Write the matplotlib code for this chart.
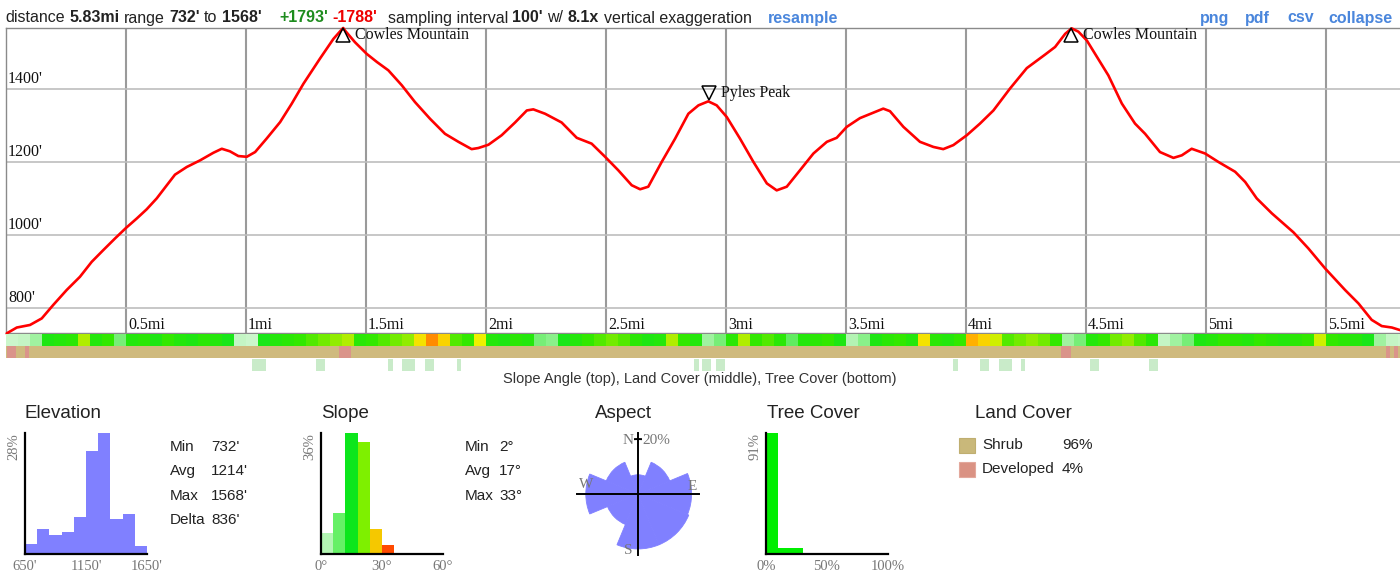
import matplotlib
matplotlib.use('Agg')
import matplotlib.pyplot as plt
import numpy as np
from matplotlib.colors import LinearSegmentedColormap
from matplotlib.patches import Rectangle
from matplotlib.text import Annotation
import matplotlib.transforms as mtrans

# ---------------- data ----------------
dist_mi = [0.003, 0.045, 0.1, 0.149, 0.197, 0.253, 0.308, 0.357, 0.405, 0.454,
           0.5, 0.545, 0.586, 0.628, 0.670, 0.704, 0.753, 0.808, 0.864, 0.899,
           0.933, 0.968, 1.003, 1.038, 1.086, 1.142, 1.190, 1.239, 1.308, 1.364,
           1.399, 1.405,
           1.4125, 1.454, 1.503, 1.545, 1.593, 1.649, 1.704, 1.767, 1.829, 1.885,
           1.940, 1.968, 2.010, 2.065, 2.121, 2.170, 2.197, 2.246, 2.315, 2.378,
           2.440, 2.496, 2.551, 2.607, 2.642, 2.676, 2.732, 2.788, 2.843,
           2.885, 2.926, 2.961, 3.003, 3.058, 3.114, 3.170, 3.211, 3.253, 3.308,
           3.364, 3.420, 3.461, 3.503, 3.558, 3.614, 3.655, 3.683, 3.739, 3.808,
           3.864, 3.905, 3.947, 4.003, 4.058, 4.114, 4.183, 4.253, 4.329,
           4.371, 4.413, 4.440, 4.468, 4.503, 4.593, 4.649, 4.704, 4.746, 4.808,
           4.864, 4.899, 4.940, 4.996, 5.051, 5.121, 5.163, 5.211, 5.274, 5.364,
           5.426, 5.496, 5.579, 5.635, 5.690, 5.732, 5.774, 5.808]
elev_ft = [731, 747, 754, 772, 809, 850, 886, 927, 959, 991,
           1020, 1046, 1071, 1101, 1137, 1166, 1187, 1205, 1226, 1237,
           1230, 1217, 1215, 1228, 1265, 1310, 1360, 1415, 1484, 1538,
           1564, 1568,
           1561, 1529, 1497, 1475, 1452, 1411, 1365, 1319, 1278, 1256,
           1236, 1239, 1248, 1274, 1309, 1342, 1345, 1333, 1309, 1267,
           1251, 1215, 1178, 1137, 1126, 1133, 1201, 1265, 1333,
           1356, 1367, 1356, 1324, 1265, 1201, 1142, 1123, 1133, 1178,
           1224, 1256, 1267, 1297, 1321, 1336, 1347, 1340, 1297, 1256,
           1242, 1236, 1247, 1274, 1306, 1342, 1402, 1458, 1495,
           1516, 1552, 1567, 1558, 1534, 1438, 1361, 1306, 1278, 1228,
           1212, 1219, 1237, 1224, 1201, 1174, 1146, 1101, 1060, 1008,
           964, 909, 850, 813, 768, 751, 747, 740]

grid_mi = [0.5, 1, 1.5, 2, 2.5, 3, 3.5, 4, 4.5, 5, 5.5]
grid_mi_labels = ['0.5mi', '1mi', '1.5mi', '2mi', '2.5mi', '3mi', '3.5mi', '4mi', '4.5mi', '5mi', '5.5mi']
grid_ft = [800, 1000, 1200, 1400]
grid_ft_labels = ["800'", "1000'", "1200'", "1400'"]

peak_names = ['Cowles Mountain', 'Pyles Peak', 'Cowles Mountain']
peak_mi = [1.405, 2.929, 4.4375]
peak_ft = [1568, 1370, 1567]
peak_up = [True, False, True]

# slope angle per 0.05 mi cell (degrees)
slope_cell_mi = 0.05
slope_deg = [5, 6, 8, 15, 16, 17, 22, 16, 18, 10,
             16, 17, 15, 18, 16, 15, 17, 16, 14, 6,
             5, 14, 16, 17, 18, 19, 20, 21, 22, 17,
             18, 19, 20, 21, 25, 30, 26, 19, 18, 24,
             16, 15, 17, 16, 10, 9, 14, 16, 18, 19,
             20, 19, 17, 15, 16, 22, 18, 16, 8, 10,
             17, 22, 18, 19, 17, 11, 16, 17, 18, 15,
             7, 9, 15, 17, 18, 16, 25, 17, 16, 18,
             28, 26, 23, 19, 20, 21, 20, 18, 8, 10,
             16, 18, 20, 21, 19, 17, 6, 8, 10, 15,
             16, 18, 17, 16, 18, 17, 16, 17, 18, 23,
             18, 17, 16, 14, 8, 6, 5]

# land cover segments (start_mi, end_mi) classed as developed; rest is shrub
developed_start = [0.004, 0.079, 1.388, 4.396, 5.750, 5.783]
developed_end = [0.042, 0.096, 1.438, 4.438, 5.767, 5.800]
# tree cover segments (low tree cover)
tree_start = [1.025, 1.292, 1.592, 1.650, 1.746, 1.879, 2.867, 2.900, 2.958,
              3.946, 4.058, 4.138, 4.229, 4.517, 4.763]
tree_end = [1.083, 1.329, 1.612, 1.704, 1.783, 1.896, 2.888, 2.938, 2.996,
            3.967, 4.096, 4.192, 4.246, 4.554, 4.800]

elev_bins = [650, 750, 850, 950, 1050, 1150, 1250, 1350, 1450, 1550, 1650]
elev_pct = [2.2, 5.9, 4.3, 5.0, 8.5, 23.8, 28.0, 8.2, 9.2, 1.9]
elev_stat_names = ['Min', 'Avg', 'Max', 'Delta']
elev_stat_vals = ["732'", "1214'", "1568'", "836'"]

slope_bins = [0, 6, 12, 18, 24, 30, 36]
slope_pct = [6.3, 12.1, 36.0, 33.4, 7.5, 2.7]
slope_stat_names = ['Min', 'Avg', 'Max']
slope_stat_vals = ['2°', '17°', '33°']

aspect_dir = [0, 45, 90, 135, 180, 225, 270, 315]
aspect_pct = [7.0, 12.5, 19.5, 20.0, 20.0, 12.0, 19.0, 12.5]

tree_bins = [0, 10, 20, 30, 40, 50, 60, 70, 80, 90, 100]
tree_pct = [91, 4.5, 4.5, 0, 0, 0, 0, 0, 0, 0]

land_names = ['Shrub', 'Developed']
land_pct = ['96%', '4%']

# ---------------- styling ----------------
W, H = 1400, 581
fig = plt.figure(figsize=(14, 5.81), dpi=100)
SANS = 'Liberation Sans'
SERIF = 'Liberation Serif'
DARK = '#222222'
GRAY = '#777777'
BLUE = '#4a86dc'

def pax(x0, y0, x1, y1, **kw):
    return fig.add_axes([x0 / W, 1 - y1 / H, (x1 - x0) / W, (y1 - y0) / H], **kw)

def ftext(x, y, s, **kw):
    kw.setdefault('va', 'center')
    return fig.text(x / W, 1 - y / H, s, **kw)

# ---------------- header ----------------
hdr_parts = [("distance", 'normal', DARK), ("5.83mi", 'bold', DARK), ("range", 'normal', DARK),
             ("732'", 'bold', DARK), ("to", 'normal', DARK), ("1568'", 'bold', DARK),
             ("+1793'", 'bold', '#1e8c1e'), ("-1788'", 'bold', '#ee0000'),
             ("sampling interval", 'normal', DARK), ("100'", 'bold', DARK), ("w/", 'normal', DARK),
             ("8.1x", 'bold', DARK), ("vertical exaggeration", 'normal', DARK),
             ("resample", 'bold', BLUE)]
hdr_gap_px = [0, 4.5, 4.5, 4.5, 4.5, 4.5, 17, 5, 10, 4.5, 4.5, 4.5, 4.5, 16]
hdr_fs = 11.5
prev = ftext(5, 18, hdr_parts[0][0], ha='left', fontsize=hdr_fs, fontweight=hdr_parts[0][1],
             color=hdr_parts[0][2], family=SANS)
for (s, wgt, col), gap in zip(hdr_parts[1:], hdr_gap_px[1:]):
    a = Annotation(s, xy=(1, 0), xycoords=prev, xytext=(gap * 0.72, 0), textcoords='offset points',
                   ha='left', va='bottom', fontsize=hdr_fs, fontweight=wgt, color=col, family=SANS)
    fig.add_artist(a)
    prev = a
link_parts = ['png', 'pdf', 'csv', 'collapse']
link_x = [1200, 1245, 1287, 1328]
for s, x in zip(link_parts, link_x):
    ftext(x, 18, s, ha='left', fontsize=hdr_fs, fontweight='bold', color=BLUE, family=SANS)

# ---------------- profile ----------------
ax = pax(6, 28, 1400, 333)
ax.set_xlim(0, 5.808)
ax.set_ylim(732, 1568)
for v in grid_mi:
    ax.axvline(v, color='#9a9a9a', lw=1.5, zorder=1)
for v in grid_ft:
    ax.axhline(v, color='#bdbdbd', lw=1.2, zorder=1)
ax.plot(dist_mi, elev_ft, color='#ff0000', lw=1.9, solid_joinstyle='round',
        solid_capstyle='round', zorder=3, clip_on=False)
ax.set_xticks([])
ax.set_yticks([])
for side in ['top', 'left', 'bottom']:
    ax.spines[side].set_color('#8a8a8a')
    ax.spines[side].set_linewidth(1.0)
ax.spines['right'].set_visible(False)

for v, lab in zip(grid_ft, grid_ft_labels):
    ax.text(0.008, v, lab, transform=mtrans.offset_copy(ax.transData, fig=fig, x=0, y=2, units='dots'),
            ha='left', va='bottom', family=SERIF, fontsize=11.5, color='#111111', zorder=2)
bl = mtrans.blended_transform_factory(ax.transData, ax.transAxes)
for v, lab in zip(grid_mi, grid_mi_labels):
    ax.text(v + 0.008, 0.014, lab, transform=bl, ha='left', va='baseline',
            family=SERIF, fontsize=11.5, color='#111111', zorder=2)

for name, pm, pf, up in zip(peak_names, peak_mi, peak_ft, peak_up):
    dy = -7 if up else 7
    tr = mtrans.offset_copy(ax.transData, fig=fig, x=0, y=dy, units='dots')
    ax.plot([pm], [pf], marker='^' if up else 'v', ms=10, mfc='none', mec='black',
            mew=1.1, transform=tr, clip_on=False, zorder=4)
    tr2 = mtrans.offset_copy(ax.transData, fig=fig, x=12, y=dy, units='dots')
    ax.text(pm, pf, name, transform=tr2, ha='left', va='center', family=SERIF,
            fontsize=11.5, color='#111111', zorder=4, clip_on=False)

# ---------------- strips ----------------
axs = pax(6, 334, 1400, 371)
axs.set_xlim(0, 5.808)
axs.set_ylim(37, 0)
axs.axis('off')
slope_cmap = LinearSegmentedColormap.from_list('slope', [
    (0.0, '#eefcee'), (6 / 36, '#c4f5c4'), (10 / 36, '#78ee78'), (14 / 36, '#18e618'),
    (18 / 36, '#30e800'), (21 / 36, '#90ec00'), (24 / 36, '#eef000'), (27 / 36, '#ffc400'),
    (30 / 36, '#ff8c00'), (1.0, '#ff4400')])
slope_left = np.arange(len(slope_deg)) * slope_cell_mi
axs.bar(slope_left, 12, width=slope_cell_mi, bottom=0, align='edge',
        color=slope_cmap(np.array(slope_deg) / 36.0), edgecolor='none')
axs.bar([0], 12, width=5.808, bottom=12.5, align='edge', color='#cfba7e', edgecolor='none')
dev_s = np.array(developed_start)
dev_e = np.array(developed_end)
axs.bar(dev_s, 12, width=dev_e - dev_s, bottom=12.5, align='edge', color='#da948a', edgecolor='none')
tr_s = np.array(tree_start)
tr_e = np.array(tree_end)
axs.bar(tr_s, 12, width=tr_e - tr_s, bottom=25, align='edge', color='#c9ebc9', edgecolor='none')
ftext(700, 379, 'Slope Angle (top), Land Cover (middle), Tree Cover (bottom)', ha='center',
      family=SANS, fontsize=10.5, color='#333333')

# ---------------- bottom panels ----------------
def hist_axes(x0, x1, xlim, ylim, xt, xtl, ylab):
    a = pax(x0, 433, x1, 554)
    a.set_xlim(*xlim)
    a.set_ylim(*ylim)
    for s in ['top', 'right']:
        a.spines[s].set_visible(False)
    for s in ['left', 'bottom']:
        a.spines[s].set_color('black')
        a.spines[s].set_linewidth(1.6)
    a.set_yticks([])
    a.set_xticks(xt)
    a.set_xticklabels(xtl, family=SERIF, fontsize=10.5, color=GRAY)
    a.tick_params(axis='x', length=0, pad=4)
    a.text(-0.09, 1.0, ylab, transform=a.transAxes, rotation=90, ha='center', va='top',
           family=SERIF, fontsize=10.5, color=GRAY)
    a.patch.set_alpha(0)
    return a

title_kw = dict(family=SANS, fontsize=13.5, color=DARK, ha='left')
stat_kw = dict(family=SANS, fontsize=11, color=DARK, ha='left')

# Elevation
ftext(25, 414, 'Elevation', **title_kw)
ae = hist_axes(25, 147, (650, 1650), (0, 28), [650, 1150, 1650], ["650'", "1150'", "1650'"], '28%')
ae.bar(elev_bins[:-1], elev_pct, width=100, align='edge', color='#8080ff', edgecolor='none')
for i, (n, v) in enumerate(zip(elev_stat_names, elev_stat_vals)):
    ftext(170, 447 + 24.3 * i, n, **stat_kw)
    ftext(211, 447 + 24.3 * i, v, **stat_kw)

# Slope
ftext(321, 414, 'Slope', **title_kw)
asl = hist_axes(321, 443, (0, 60), (0, 36), [0, 30, 60], ['0°', '30°', '60°'], '36%')
slope_bar_colors = ['#b3f5b3', '#66f066', '#0ce61c', '#7ef000', '#f5c800', '#ff4a00']
asl.bar(slope_bins[:-1], slope_pct, width=6, align='edge', color=slope_bar_colors, edgecolor='none')
for i, (n, v) in enumerate(zip(slope_stat_names, slope_stat_vals)):
    ftext(465, 447 + 24.3 * i, n, **stat_kw)
    ftext(499, 447 + 24.3 * i, v, **stat_kw)

# Aspect
ftext(595, 414, 'Aspect', **title_kw)
R = 22.2
cx, cy, rp = 638, 494, 61
ar = pax(cx - rp, cy - rp, cx + rp, cy + rp, projection='polar')
ar.set_theta_zero_location('N')
ar.set_theta_direction(-1)
ar.set_ylim(0, R)
ar.bar(np.deg2rad(aspect_dir), aspect_pct, width=np.deg2rad(45), color='#8080ff',
       edgecolor='#8080ff', lw=0.6, zorder=1)
ar.axis('off')
for th in [0, np.pi / 2, np.pi, 3 * np.pi / 2]:
    ar.plot([th, th], [0, R], color='black', lw=1.4, zorder=3, clip_on=False)
ar.plot(np.linspace(-0.055, 0.055, 7), [20] * 7, color='black', lw=1.4, zorder=3, clip_on=False)
lab_kw = dict(family=SERIF, fontsize=11, color=GRAY)
ftext(634, 440, 'N', ha='right', **lab_kw)
ftext(642, 440, '20%', ha='left', **lab_kw)
ftext(586, 484, 'W', ha='center', **lab_kw)
ftext(692, 486, 'E', ha='center', **lab_kw)
ftext(628, 550, 'S', ha='center', **lab_kw)

# Tree cover
ftext(767, 414, 'Tree Cover', **title_kw)
at = hist_axes(766, 888, (0, 100), (0, 91), [0, 50, 100], ['0%', '50%', '100%'], '91%')
at.bar(tree_bins[:-1], tree_pct, width=10, align='edge', color='#00ee00', edgecolor='none')

# Land cover
ftext(975, 414, 'Land Cover', **title_kw)
land_colors = ['#c9b87a', '#da9283']
land_edges = ['#bfae70', '#e3a89c']
for i, (n, v) in enumerate(zip(land_names, land_pct)):
    yc = 445 + 24 * i
    fig.patches.append(Rectangle((959 / W, 1 - (yc + 7.5) / H), 16 / W, 15 / H,
                                 transform=fig.transFigure, facecolor=land_colors[i],
                                 edgecolor=land_edges[i], lw=0.8))
    ftext(982, yc, n, **stat_kw)
    ftext(1062, yc, v, **stat_kw)

fig.savefig('out.png', dpi=100)
